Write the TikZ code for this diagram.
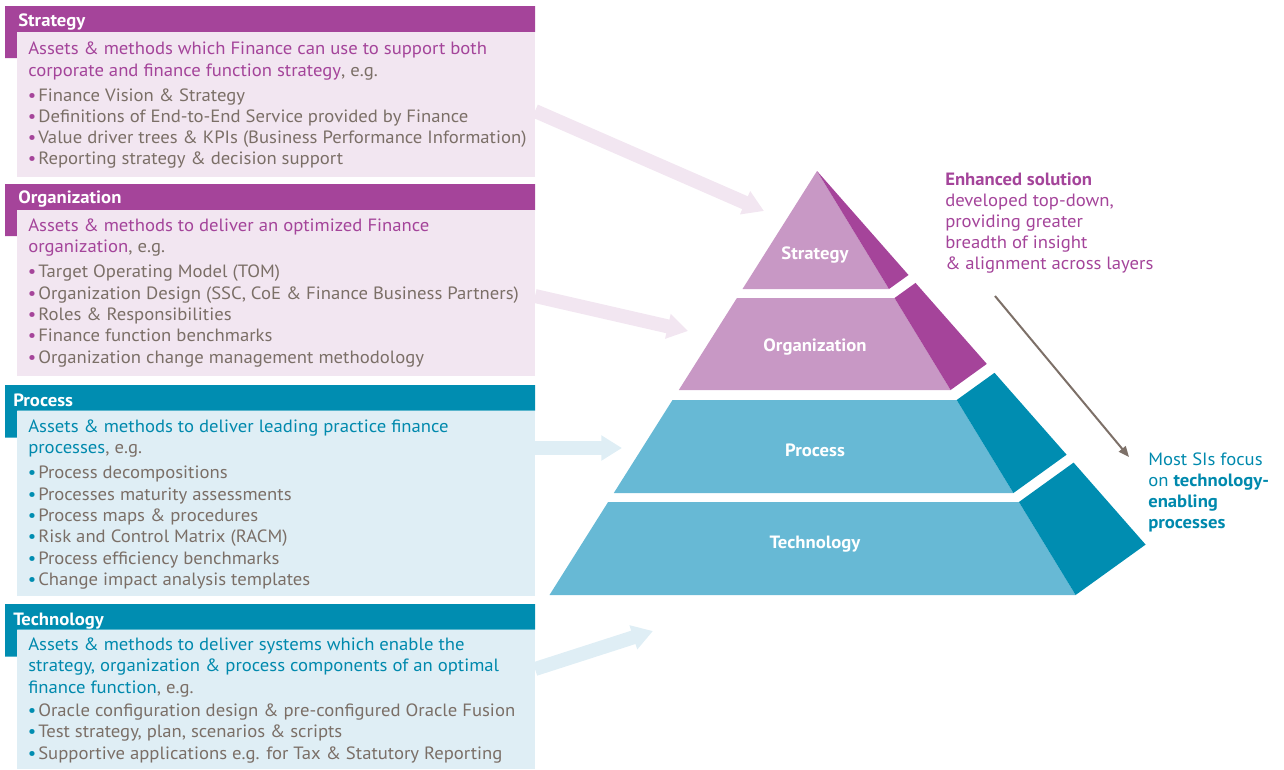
\documentclass[tikz,border=0pt]{standalone}
\usepackage{fontspec}
\setmainfont[FakeStretch=1.05]{PT Sans}
\usetikzlibrary{arrows.meta,fit}

\definecolor{purpleD}{HTML}{A5449A}
\definecolor{purpleL}{HTML}{C898C5}
\definecolor{pinkBg}{HTML}{F2E6F1}
\definecolor{tealD}{HTML}{008DB1}
\definecolor{blueL}{HTML}{67B9D5}
\definecolor{blueBg}{HTML}{DFEEF5}
\definecolor{greyT}{HTML}{7B6F67}
\definecolor{purpleT}{HTML}{A4449A}
\definecolor{tealT}{HTML}{0089AD}
\definecolor{arrowGrey}{HTML}{7D7068}

\newcommand\bul[1]{\makebox[7.9pt][l]{\color{#1}\textbullet}}
\newcommand\basefont{\fontsize{13.35}{15}\selectfont}

\begin{document}
\begin{tikzpicture}[x=0.75pt,y=-0.75pt,
  font=\basefont,
  txt/.style={anchor=base west,inner sep=0pt},
  hdr/.style={txt,text=white,font=\basefont\bfseries},
  descP/.style={txt,text=purpleT},
  descT/.style={txt,text=tealT},
  item/.style={txt,text=greyT},
  panel/.style={inner sep=0pt,draw=none},
  tierlabel/.style={anchor=base,inner sep=0pt,text=white,font=\basefont\bfseries},
  blockarrow/.style={line width=10.5pt,-{Triangle[length=15.5pt,width=18pt]}},
]
\useasboundingbox (0,0) rectangle (1284,769);

% ---------- arrow end points ----------
\coordinate (sA) at (535,111);  \coordinate (sT) at (764,211);
\coordinate (oA) at (535,296);  \coordinate (oT) at (688,331);
\coordinate (pA) at (535,448);  \coordinate (pT) at (622,448);
\coordinate (tA) at (535,669);  \coordinate (tT) at (653,631);

% ---------- block arrows from the panels to the pyramid ----------
\draw[blockarrow,pinkBg] (sA) -- (sT);
\draw[blockarrow,pinkBg] (oA) -- (oT);
\draw[blockarrow,blueBg] (pA) -- (pT);
\draw[blockarrow,blueBg] (tA) -- (tT);

% ---------- Strategy panel ----------
\fill[purpleD] (5,6) -- (535,6) -- (535,32) -- (17,32) -- (17,58) -- (5,58) -- cycle;
\node[panel,fill=pinkBg,fit={(17,32)(535,177)}] (sbox) {};
\node[hdr] (shdr) at (18,26.5) {Strategy};
\node[descP] (sd1) at (28,54.5) {Assets \& methods which Finance can use to support both};
\node[descP] (sd2) at (28,76) {corporate and finance function strategy\textcolor{greyT}{, e.g.}};
\node[item] (si1) at (27.5,101) {\bul{purpleD}Finance Vision \& Strategy};
\node[item] (si2) at (27.5,122) {\bul{purpleD}Definitions of End-to-End Service provided by Finance};
\node[item] (si3) at (27.5,143) {\bul{purpleD}Value driver trees \& KPIs (Business Performance Information)};
\node[item] (si4) at (27.5,164) {\bul{purpleD}Reporting strategy \& decision support};

% ---------- Organization panel ----------
\fill[purpleD] (5,184) -- (535,184) -- (535,210) -- (17,210) -- (17,236) -- (5,236) -- cycle;
\node[panel,fill=pinkBg,fit={(17,210)(535,376)}] (obox) {};
\node[hdr] (ohdr) at (18,203) {Organization};
\node[descP] (od1) at (28,231.5) {Assets \& methods to deliver an optimized Finance};
\node[descP] (od2) at (28,252.5) {organization\textcolor{greyT}{, e.g.}};
\node[item] (oi1) at (27.5,277.5) {\bul{purpleD}Target Operating Model (TOM)};
\node[item] (oi2) at (27.5,299) {\bul{purpleD}Organization Design (SSC, CoE \& Finance Business Partners)};
\node[item] (oi3) at (27.5,320.5) {\bul{purpleD}Roles \& Responsibilities};
\node[item] (oi4) at (27.5,341.5) {\bul{purpleD}Finance function benchmarks};
\node[item] (oi5) at (27.5,363) {\bul{purpleD}Organization change management methodology};

% ---------- Process panel ----------
\fill[tealD] (5,385) -- (535,385) -- (535,410.5) -- (17,410.5) -- (17,437.5) -- (5,437.5) -- cycle;
\node[panel,fill=blueBg,fit={(17,410.5)(535,595.5)}] (pbox) {};
\node[hdr] (phdr) at (13,406) {Process};
\node[descT] (pd1) at (28,432.5) {Assets \& methods to deliver leading practice finance};
\node[descT] (pd2) at (28,453.5) {processes\textcolor{greyT}{, e.g.}};
\node[item] (pi1) at (27.5,478.5) {\bul{tealD}Process decompositions};
\node[item] (pi2) at (27.5,500) {\bul{tealD}Processes maturity assessments};
\node[item] (pi3) at (27.5,521.5) {\bul{tealD}Process maps \& procedures};
\node[item] (pi4) at (27.5,542.5) {\bul{tealD}Risk and Control Matrix (RACM)};
\node[item] (pi5) at (27.5,564) {\bul{tealD}Process efficiency benchmarks};
\node[item] (pi6) at (27.5,585) {\bul{tealD}Change impact analysis templates};

% ---------- Technology panel ----------
\fill[tealD] (5,604) -- (535,604) -- (535,629.5) -- (17,629.5) -- (17,656.5) -- (5,656.5) -- cycle;
\node[panel,fill=blueBg,fit={(17,629.5)(535,769)}] (tbox) {};
\node[hdr] (thdr) at (13,625) {Technology};
\node[descT] (td1) at (28,650) {Assets \& methods to deliver systems which enable the};
\node[descT] (td2) at (28,671.5) {strategy, organization \& process components of an optimal};
\node[descT] (td3) at (28,693) {finance function\textcolor{greyT}{, e.g.}};
\node[item] (ti1) at (27.5,716) {\bul{tealD}Oracle configuration design \& pre-configured Oracle Fusion};
\node[item] (ti2) at (27.5,737.5) {\bul{tealD}Test strategy, plan, scenarios \& scripts};
\node[item] (ti3) at (27.5,759) {\bul{tealD}Supportive applications e.g. for Tax \& Statutory Reporting};

% ---------- pyramid: front faces and dark side faces ----------
\fill[purpleL] (817,171) -- (889,289) -- (742.5,289) -- cycle;
\fill[purpleD] (817,171) -- (908.5,275) -- (889,289) -- cycle;
\fill[purpleL] (736.9,298) -- (894.5,298) -- (950.6,390) -- (678.8,390) -- cycle;
\fill[purpleD] (894.5,298) -- (915.5,282.9) -- (986.8,363.9) -- (950.6,390) -- cycle;
\fill[blueL] (672.5,400) -- (956.7,400) -- (1013.4,493) -- (613.8,493) -- cycle;
\fill[tealD] (956.7,400) -- (994.5,372.8) -- (1066.6,454.7) -- (1013.4,493) -- cycle;
\fill[blueL] (608.1,502) -- (1018.9,502) -- (1075.6,595) -- (549.5,595) -- cycle;
\fill[tealD] (1018.9,502) -- (1073.6,462.6) -- (1145.6,544.6) -- (1075.6,595) -- cycle;

\node[tierlabel] (lS) at (815,259) {Strategy};
\node[tierlabel] (lO) at (815,351.5) {Organization};
\node[tierlabel] (lP) at (815,456) {Process};
\node[tierlabel] (lT) at (815,548) {Technology};

% ---------- right-hand notes ----------
\node[txt,text=purpleT,font=\basefont\bfseries] (e1) at (945,185) {Enhanced solution};
\node[txt,text=purpleT] (e2) at (945,206) {developed top-down,};
\node[txt,text=purpleT] (e3) at (945,227) {providing greater};
\node[txt,text=purpleT] (e4) at (945,248) {breadth of insight};
\node[txt,text=purpleT] (e5) at (945,269) {\& alignment across layers};

\node[txt,text=tealT] (m1) at (1148,465) {Most SIs focus};
\node[txt,text=tealT] (m2) at (1148,486) {on \textbf{technology-}};
\node[txt,text=tealT] (m3) at (1148,507) {\textbf{enabling}};
\node[txt,text=tealT] (m4) at (1148,528) {\textbf{processes}};

\coordinate (gS) at (995,296);
\coordinate (gE) at (1129,457);
\draw[arrowGrey,line width=1.5pt,-{Triangle[length=8pt,width=6.5pt]}] (gS) -- (gE);
\end{tikzpicture}
\end{document}
